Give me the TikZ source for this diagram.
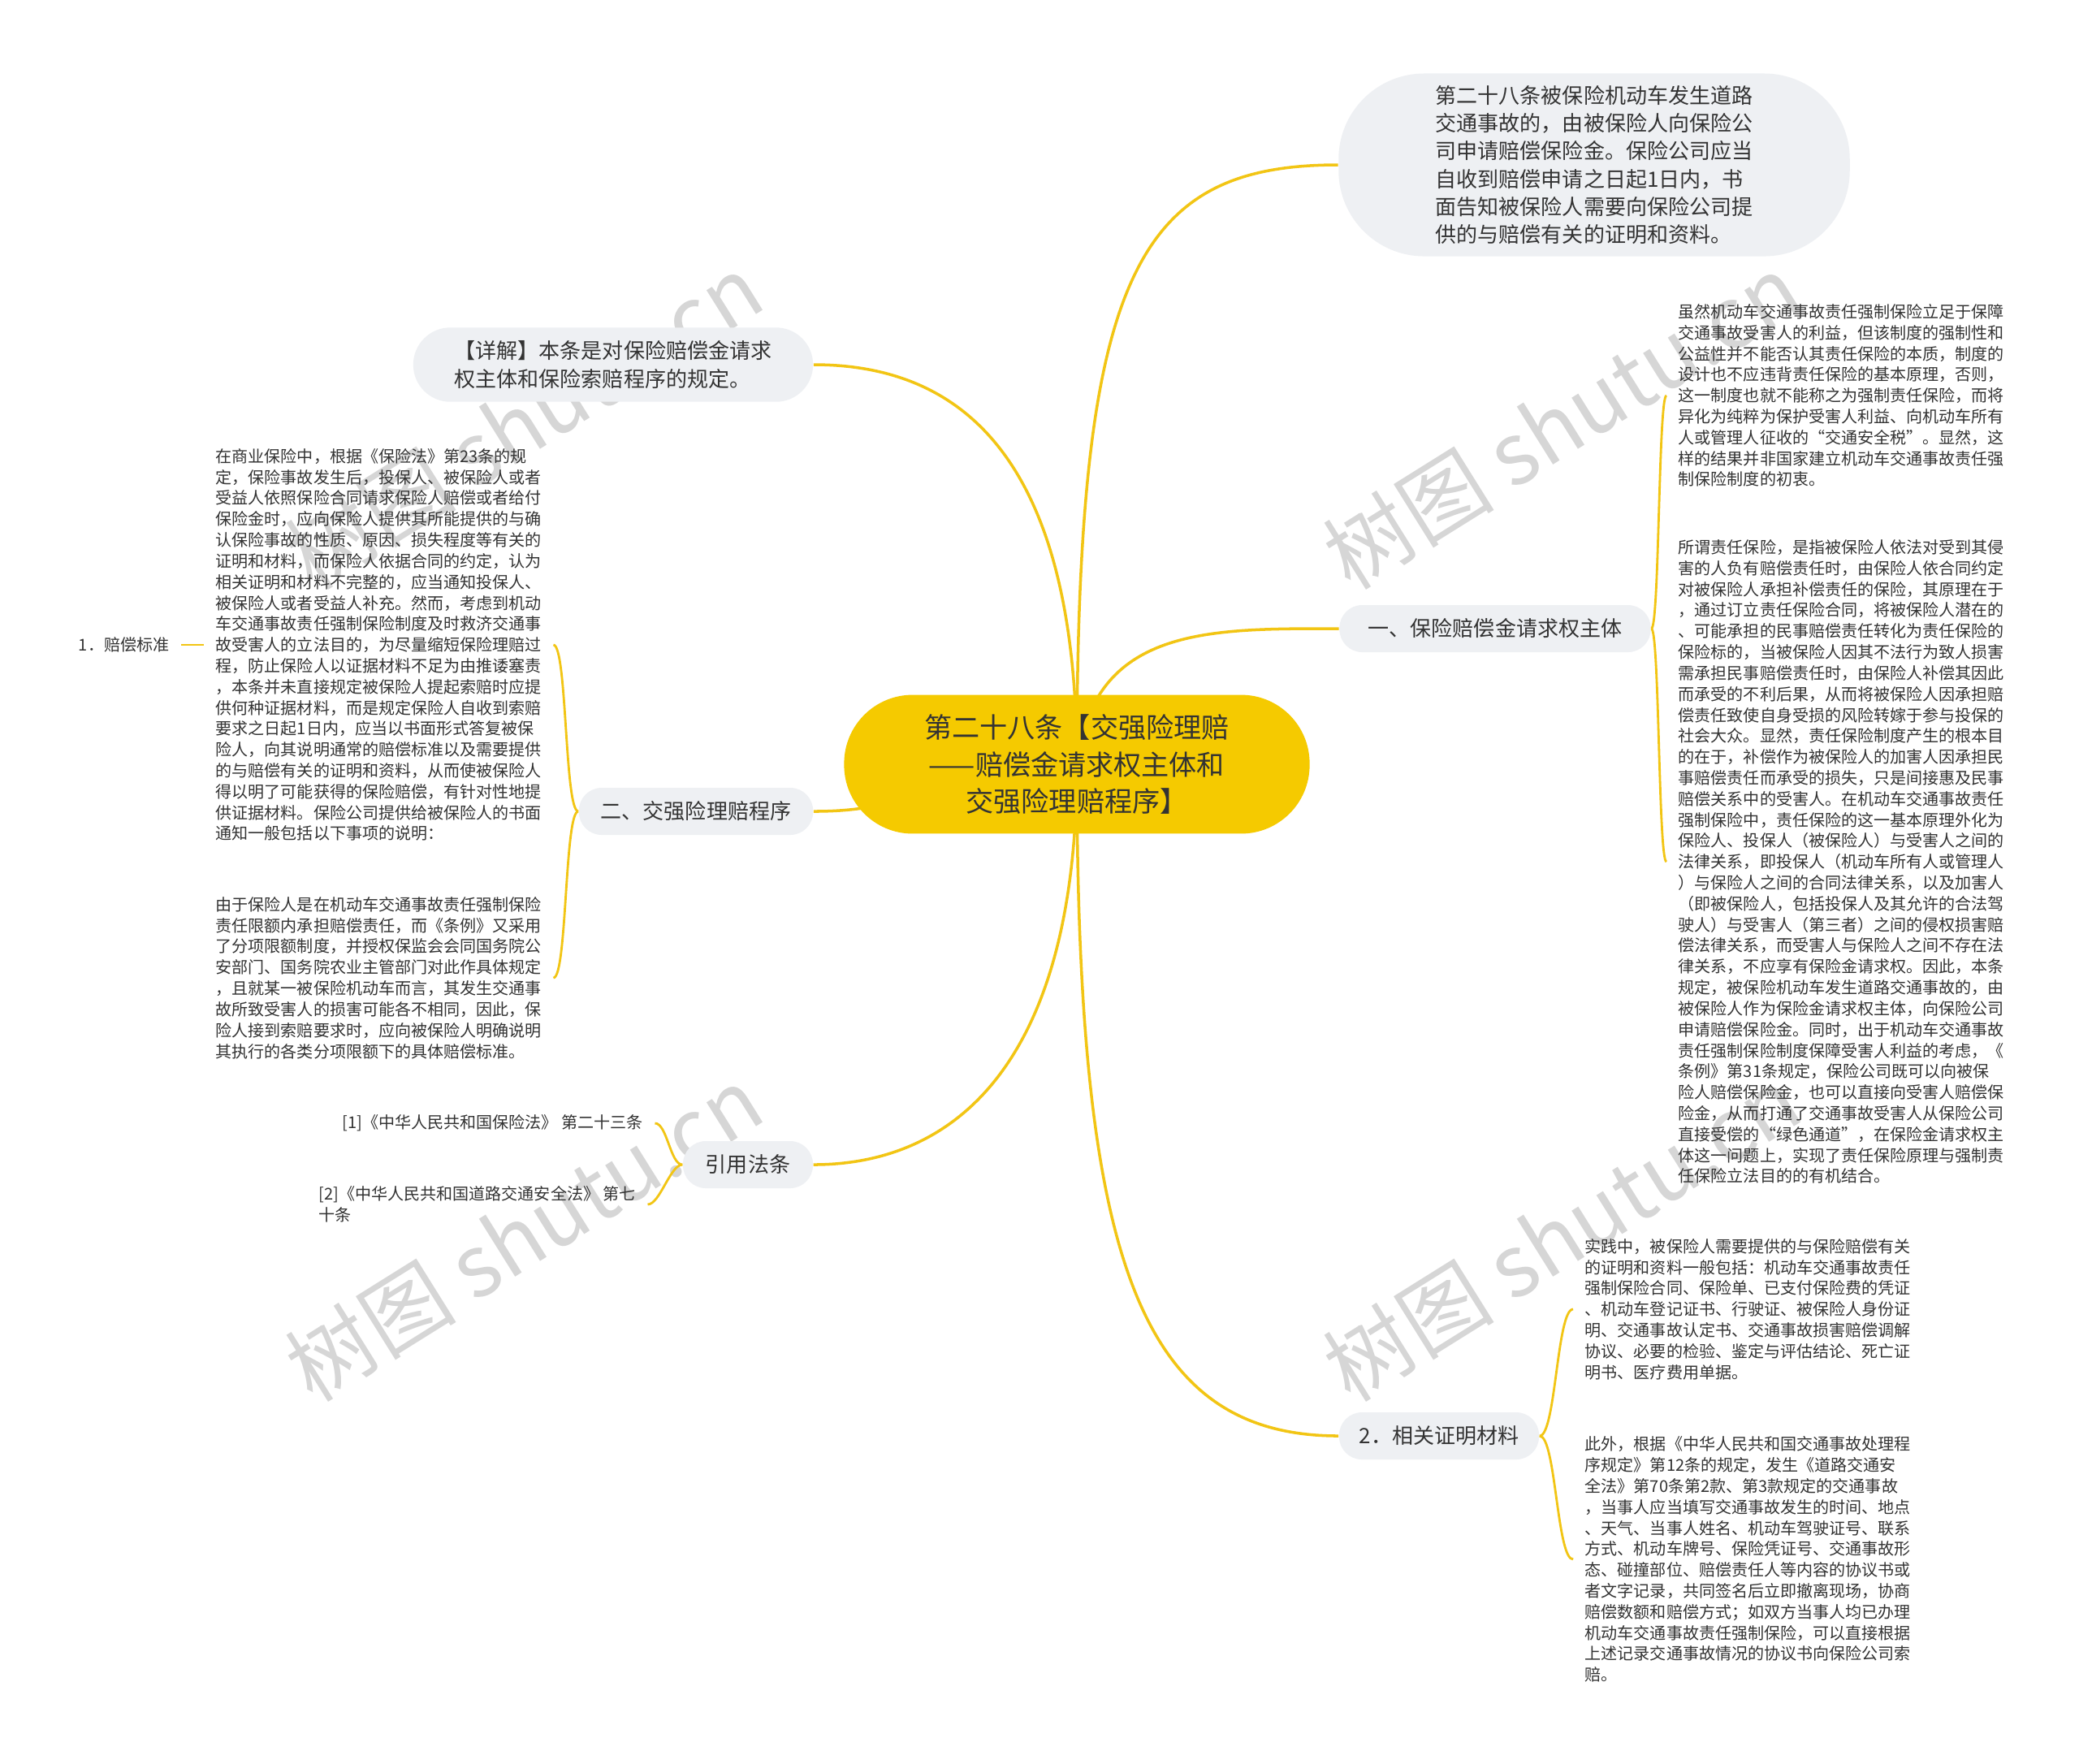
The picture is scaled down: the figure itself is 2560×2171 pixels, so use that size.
\documentclass[tikz,border=0pt]{standalone}
\usepackage{fontspec}
\setmainfont{Noto Sans CJK SC}
\usepackage{tikz}
\usetikzlibrary{positioning,backgrounds}
\definecolor{mmyellow}{HTML}{F5CA00}
\definecolor{mmline}{HTML}{F2C514}
\definecolor{mmgray}{HTML}{EEF0F3}
\definecolor{mmtext}{HTML}{333333}

\begin{document}
\begin{tikzpicture}[
  x=0.01cm, y=-0.01cm, text=mmtext,
  topic/.style={fill=mmyellow, rounded corners=24pt, minimum width=163pt,
                minimum height=48.6pt, align=center,
                font=\fontsize{9.7}{13}\selectfont},
  bubble/.style={fill=mmgray, rounded corners=30pt, minimum width=179pt,
                 minimum height=64pt, align=left,
                 font=\fontsize{7.4}{9.76}\selectfont},
  branch/.style={fill=mmgray, rounded corners=8pt, minimum height=16.5pt,
                 inner xsep=0pt, font=\fontsize{7.4}{9.76}\selectfont},
  note/.style={align=left, inner xsep=4pt, inner ysep=0pt,
               font=\fontsize{5.7}{7.34}\selectfont},
  watermark/.style={rotate=32, text=black!16, font=\fontsize{30}{30}\selectfont},
  link/.style={draw=mmline, line width=1pt},
  sublink/.style={draw=mmline, line width=0.8pt},
]
\useasboundingbox (0,0) rectangle (2560,2171);

% centre and main branches
\node[topic] (root) at (1326,941) {第二十八条【交强险理赔\\——赔偿金请求权主体和\\交强险理赔程序】};
\node[bubble] (law) at (1963,203) {第二十八条被保险机动车发生道路\\交通事故的，由被保险人向保险公\\司申请赔偿保险金。保险公司应当\\自收到赔偿申请之日起1日内，书\\面告知被保险人需要向保险公司提\\供的与赔偿有关的证明和资料。};
\node[bubble, rounded corners=13pt, minimum width=140pt, minimum height=26pt] (detail) at (755,449) {【详解】本条是对保险赔偿金请求\\权主体和保险索赔程序的规定。};
\node[branch, minimum width=109pt] (subj) at (1841,774) {一、保险赔偿金请求权主体};
\node[branch, minimum width=82pt] (proc) at (857,999) {二、交强险理赔程序};
\node[branch, minimum width=45.5pt] (cite) at (921,1434) {引用法条};
\node[branch, minimum width=70pt] (proof) at (1772,1768) {2．相关证明材料};

% right notes
\node[note, anchor=west] (noteA) at (2052,487) {虽然机动车交通事故责任强制保险立足于保障\\交通事故受害人的利益，但该制度的强制性和\\公益性并不能否认其责任保险的本质，制度的\\设计也不应违背责任保险的基本原理，否则，\\这一制度也就不能称之为强制责任保险，而将\\异化为纯粹为保护受害人利益、向机动车所有\\人或管理人征收的“交通安全税”。显然，这\\样的结果并非国家建立机动车交通事故责任强\\制保险制度的初衷。};
\node[note, anchor=west] (noteB) at (2052,1061) {所谓责任保险，是指被保险人依法对受到其侵\\害的人负有赔偿责任时，由保险人依合同约定\\对被保险人承担补偿责任的保险，其原理在于\\，通过订立责任保险合同，将被保险人潜在的\\、可能承担的民事赔偿责任转化为责任保险的\\保险标的，当被保险人因其不法行为致人损害\\需承担民事赔偿责任时，由保险人补偿其因此\\而承受的不利后果，从而将被保险人因承担赔\\偿责任致使自身受损的风险转嫁于参与投保的\\社会大众。显然，责任保险制度产生的根本目\\的在于，补偿作为被保险人的加害人因承担民\\事赔偿责任而承受的损失，只是间接惠及民事\\赔偿关系中的受害人。在机动车交通事故责任\\强制保险中，责任保险的这一基本原理外化为\\保险人、投保人（被保险人）与受害人之间的\\法律关系，即投保人（机动车所有人或管理人\\）与保险人之间的合同法律关系，以及加害人\\（即被保险人，包括投保人及其允许的合法驾\\驶人）与受害人（第三者）之间的侵权损害赔\\偿法律关系，而受害人与保险人之间不存在法\\律关系，不应享有保险金请求权。因此，本条\\规定，被保险机动车发生道路交通事故的，由\\被保险人作为保险金请求权主体，向保险公司\\申请赔偿保险金。同时，出于机动车交通事故\\责任强制保险制度保障受害人利益的考虑，《\\条例》第31条规定，保险公司既可以向被保\\险人赔偿保险金，也可以直接向受害人赔偿保\\险金，从而打通了交通事故受害人从保险公司\\直接受偿的“绿色通道”，在保险金请求权主\\体这一问题上，实现了责任保险原理与强制责\\任保险立法目的的有机结合。};
\node[note, anchor=west] (noteC) at (1937,1612) {实践中，被保险人需要提供的与保险赔偿有关\\的证明和资料一般包括：机动车交通事故责任\\强制保险合同、保险单、已支付保险费的凭证\\、机动车登记证书、行驶证、被保险人身份证\\明、交通事故认定书、交通事故损害赔偿调解\\协议、必要的检验、鉴定与评估结论、死亡证\\明书、医疗费用单据。};
\node[note, anchor=west] (noteD) at (1937,1920) {此外，根据《中华人民共和国交通事故处理程\\序规定》第12条的规定，发生《道路交通安\\全法》第70条第2款、第3款规定的交通事故\\，当事人应当填写交通事故发生的时间、地点\\、天气、当事人姓名、机动车驾驶证号、联系\\方式、机动车牌号、保险凭证号、交通事故形\\态、碰撞部位、赔偿责任人等内容的协议书或\\者文字记录，共同签名后立即撤离现场，协商\\赔偿数额和赔偿方式；如双方当事人均已办理\\机动车交通事故责任强制保险，可以直接根据\\上述记录交通事故情况的协议书向保险公司索\\赔。};

% left notes
\node[note, anchor=west] (left1) at (251,794) {在商业保险中，根据《保险法》第23条的规\\定，保险事故发生后，投保人、被保险人或者\\受益人依照保险合同请求保险人赔偿或者给付\\保险金时，应向保险人提供其所能提供的与确\\认保险事故的性质、原因、损失程度等有关的\\证明和材料，而保险人依据合同的约定，认为\\相关证明和材料不完整的，应当通知投保人、\\被保险人或者受益人补充。然而，考虑到机动\\车交通事故责任强制保险制度及时救济交通事\\故受害人的立法目的，为尽量缩短保险理赔过\\程，防止保险人以证据材料不足为由推诿塞责\\，本条并未直接规定被保险人提起索赔时应提\\供何种证据材料，而是规定保险人自收到索赔\\要求之日起1日内，应当以书面形式答复被保\\险人，向其说明通常的赔偿标准以及需要提供\\的与赔偿有关的证明和资料，从而使被保险人\\得以明了可能获得的保险赔偿，有针对性地提\\供证据材料。保险公司提供给被保险人的书面\\通知一般包括以下事项的说明：};
\node[note, anchor=west] (left2) at (251,1204) {由于保险人是在机动车交通事故责任强制保险\\责任限额内承担赔偿责任，而《条例》又采用\\了分项限额制度，并授权保监会会同国务院公\\安部门、国务院农业主管部门对此作具体规定\\，且就某一被保险机动车而言，其发生交通事\\故所致受害人的损害可能各不相同，因此，保\\险人接到索赔要求时，应向被保险人明确说明\\其执行的各类分项限额下的具体赔偿标准。};
\node[note, anchor=east] (std) at (223,794) {1．赔偿标准};
\node[note, anchor=west] (cite1) at (407,1383) {[1]《中华人民共和国保险法》 第二十三条};
\node[note, anchor=west] (cite2) at (378,1483) {[2]《中华人民共和国道路交通安全法》 第七\\十条};

\begin{scope}[on background layer]
\fill[white] (0,0) rectangle (2560,2171);
\node[watermark] (wm1) at (645,519) {树图 shutu.cn};
\node[watermark] (wm2) at (645,1519) {树图 shutu.cn};
\node[watermark] (wm3) at (1923,519) {树图 shutu.cn};
\node[watermark] (wm4) at (1923,1519) {树图 shutu.cn};

\draw[link] (root.center) .. controls +(0,-600) and +(-250,0) .. (law.west);
\draw[link] (root.center) .. controls +(0,-380) and +(180,0) .. (detail.east);
\draw[link] (root.center) .. controls +(20,-170) and +(-160,0) .. (subj.west);
\draw[link] (root.center) .. controls +(-200,0) and +(150,0) .. (proc.east);
\draw[link] (root.center) .. controls +(0,360) and +(180,0) .. (cite.east);
\draw[link] (root.center) .. controls +(0,600) and +(-250,0) .. (proof.west);

\draw[sublink] (subj.east) .. controls +(10,0) and +(-10,0) .. (noteA.west);
\draw[sublink] (subj.east) .. controls +(10,0) and +(-10,0) .. (noteB.west);
\draw[sublink] (proof.east) .. controls +(20,0) and +(-20,0) .. (noteC.west);
\draw[sublink] (proof.east) .. controls +(20,0) and +(-20,0) .. (noteD.west);
\draw[sublink] (proc.west) .. controls +(-17,0) and +(17,0) .. (left1.east);
\draw[sublink] (proc.west) .. controls +(-17,0) and +(17,0) .. (left2.east);
\draw[sublink] (cite.west) .. controls +(-15,0) and +(15,0) .. (cite1.east);
\draw[sublink] (cite.west) .. controls +(-15,0) and +(15,0) .. (cite2.east);
\draw[sublink] (std.east) -- (left1.west);
\end{scope}
\end{tikzpicture}
\end{document}
